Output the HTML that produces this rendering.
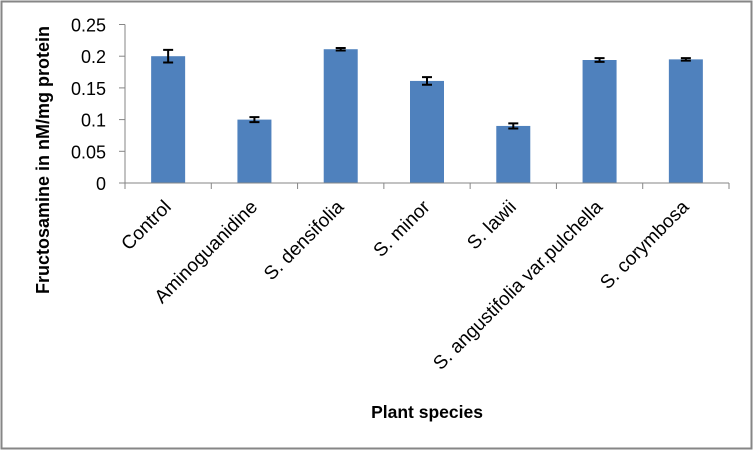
<!DOCTYPE html>
<html><head><meta charset="utf-8"><style>
html,body{margin:0;padding:0;background:#fff}
svg{display:block;font-family:"Liberation Sans",sans-serif}
</style></head><body>
<svg id="chart" width="753" height="451">
<rect x="1.5" y="1.5" width="750" height="447" fill="#fff" stroke="#868686" stroke-width="2"/>
<g id="plot"></g>
<text x="49" y="160" transform="rotate(-90 49 160)" text-anchor="middle" font-size="18" font-weight="bold">Fructosamine in nM/mg protein</text>
<text x="427" y="418" text-anchor="middle" font-size="17.5" font-weight="bold">Plant species</text>
</svg>
<script>
const categories = ["Control","Aminoguanidine","S. densifolia","S. minor","S. lawii","S. angustifolia var.pulchella","S. corymbosa"];
const values = [0.200,0.100,0.211,0.161,0.090,0.194,0.195];
const errors = [0.010,0.004,0.002,0.006,0.004,0.003,0.002];
const yTicks = [0,0.05,0.1,0.15,0.2,0.25];
const yTickLabels = ["0","0.05","0.1","0.15","0.2","0.25"];

const NS="http://www.w3.org/2000/svg";
const g=document.getElementById('plot');
const X0=125,X1=729,Y0=183,Y1=24.5,YMAX=0.25;
const band=(X1-X0)/categories.length;
const y=v=>Y0-(v/YMAX)*(Y0-Y1);
const xc=i=>X0+band*(i+0.5);
function mk(t,a){const e=document.createElementNS(NS,t);for(const k in a)e.setAttribute(k,a[k]);g.appendChild(e);return e;}

yTicks.forEach((t,i)=>{
  const l=mk('line',{x1:X0-6,x2:X0,y1:y(t),y2:y(t),stroke:'#868686'});
  
  
  const tx=mk('text',{x:X0-19,y:y(t)+7,'text-anchor':'end','font-size':'18'});
  tx.textContent=yTickLabels[i];
  
  
});
categories.forEach((c,i)=>{
  const bw=34,v=values[i],e=errors[i],cx=xc(i);
  const b=mk('rect',{x:cx-bw/2,y:y(v),width:bw,height:Y0-y(v),fill:'#4f81bd'});
  
  
  const eb=mk('path',{d:`M${cx},${y(v+e)}V${y(v-e)}M${cx-5},${y(v+e)}H${cx+5}M${cx-5},${y(v-e)}H${cx+5}`,stroke:'#000','stroke-width':'2',fill:'none'});
  
  
  const lx=cx+4,ly=208;
  const t=mk('text',{x:lx,y:ly,'text-anchor':'end','font-size':'19',transform:`rotate(-45 ${lx} ${ly})`});
  t.textContent=c;
  
  
});
for(let i=0;i<=categories.length;i++){
  const x=X0+band*i;
  const l=mk('line',{x1:x,x2:x,y1:Y0,y2:Y0+6,stroke:'#868686'});
  
  
}
const ya=mk('line',{x1:X0,x2:X0,y1:Y1,y2:Y0,stroke:'#868686'});


const xa=mk('line',{x1:X0,x2:X1,y1:Y0,y2:Y0,stroke:'#868686'});


</script>
</body></html>
